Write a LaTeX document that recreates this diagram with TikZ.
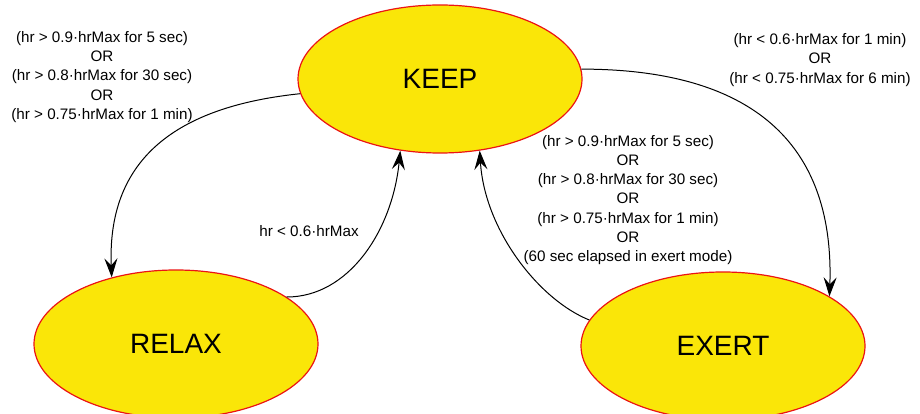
\documentclass[tikz,border=0pt]{standalone}
\usepackage{fontspec}
\setmainfont{Liberation Sans}
\usetikzlibrary{shapes.geometric,arrows.meta}
\definecolor{stateyellow}{RGB}{250,230,8}
\definecolor{statered}{RGB}{235,20,20}
\begin{document}
\begin{tikzpicture}[x=1pt, y=-1pt]
        \tikzstyle{state}=[ellipse, draw=statered, line width=1.2pt, fill=stateyellow, inner sep=0pt, minimum width=284pt, minimum height=148pt, font=\fontsize{28}{33}\selectfont]
        \tikzstyle{cond}=[align=center, inner sep=0pt, font=\fontsize{15.2}{19.3}\selectfont]
        \tikzstyle{trans}=[draw=black, line width=1pt, -{Stealth[length=19pt, width=13pt, inset=7pt]}]

        \useasboundingbox (0,0) rectangle (920,414);

% heart rate modes and the conditions to switch between them

        \node[state] (keep) at (440,79) {KEEP};
        \node[state] (relax) at (176,344) {RELAX};
        \node[state] (exert) at (723,346) {EXERT};

        \node[cond] (toRelax) at (102,77) {(hr > 0.9·hrMax for 5 sec)\\OR\\(hr > 0.8·hrMax for 30 sec)\\OR\\(hr > 0.75·hrMax for 1 min)};
        \node[cond] (toExert) at (820,60) {(hr < 0.6·hrMax for 1 min)\\OR\\(hr < 0.75·hrMax for 6 min)};
        \node[cond] (exertToKeep) at (628,200) {(hr > 0.9·hrMax for 5 sec)\\OR\\(hr > 0.8·hrMax for 30 sec)\\OR\\(hr > 0.75·hrMax for 1 min)\\OR\\(60 sec elapsed in exert mode)};
        \node[cond] (relaxToKeep) at (309,231) {hr < 0.6·hrMax};

        \draw[trans] (keep.186) .. controls +(-115,12) and +(-5,-125) .. (relax.134);
        \draw[trans] (relax.23) .. controls +(62,0) and +(-8,80) .. (keep.241);
        \draw[trans] (exert.169) .. controls +(-50,-20) and +(5,80) .. (keep.299);
        \draw[trans] (keep.4) .. controls +(180,0) and +(5,-145) .. (exert.25);

    \end{tikzpicture}
\end{document}
